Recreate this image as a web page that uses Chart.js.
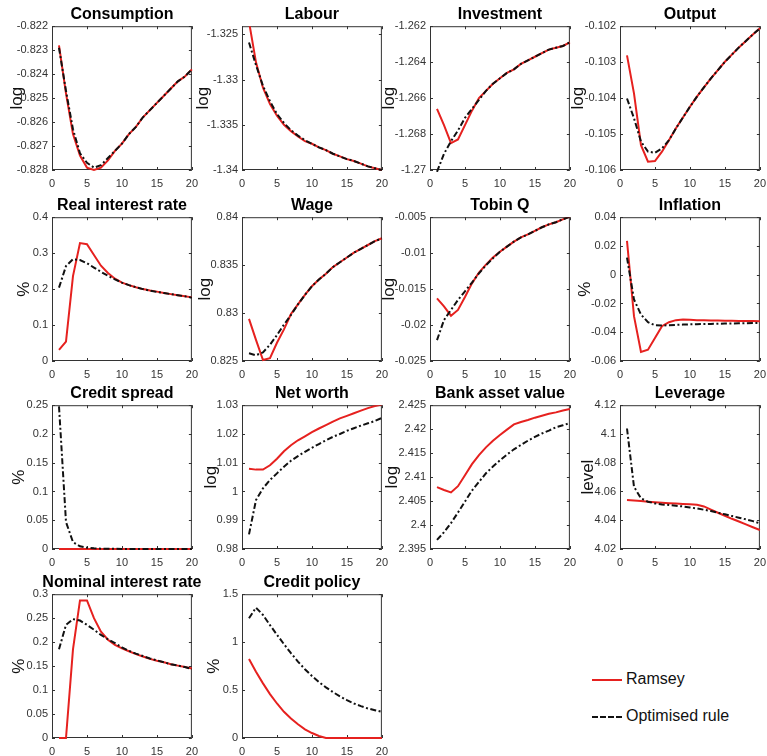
<!DOCTYPE html>
<html>
<head>
<meta charset="utf-8">
<script src="https://cdn.jsdelivr.net/npm/chart.js@4/dist/chart.umd.min.js"></script>
<style>
    body { margin: 0; background: #fff; width: 767px; height: 756px; position: relative; overflow: hidden; font-family: 'Liberation Sans', Arial, sans-serif; }
    canvas { position: absolute; }
    .key { position: absolute; left: 592px; font-size: 16px; color: #111; }
    .key span { display: inline-block; width: 30px; vertical-align: middle; margin-right: 4px; }
</style>
</head>
<body>
<div class="key" style="top: 670px;"><span style="border-top: 2px solid #e6211f;"></span>Ramsey</div>
<div class="key" style="top: 707px;"><span style="border-top: 2px dashed #111;"></span>Optimised rule</div>
<script>
const periods = [1, 2, 3, 4, 5, 6, 7, 8, 9, 10, 11, 12, 13, 14, 15, 16, 17, 18, 19, 20];
const xTicks = [0, 5, 10, 15, 20];

const consumptionRamsey = [-0.8228, -0.8248, -0.8265, -0.8274, -0.8279, -0.8280, -0.8279, -0.8276, -0.8272, -0.8269, -0.8265, -0.8262, -0.8258, -0.8255, -0.8252, -0.8249, -0.8246, -0.8243, -0.8241, -0.8238];
const consumptionOptimised = [-0.8229, -0.8247, -0.8263, -0.8273, -0.8277, -0.8279, -0.8278, -0.8275, -0.8272, -0.8269, -0.8265, -0.8262, -0.8258, -0.8255, -0.8252, -0.8249, -0.8246, -0.8243, -0.8241, -0.8238];
const consumptionTicks = [-0.828, -0.827, -0.826, -0.825, -0.824, -0.823, -0.822];

const labourRamsey = [-1.3236, -1.3281, -1.3309, -1.3327, -1.3340, -1.3350, -1.3357, -1.3363, -1.3368, -1.3371, -1.3375, -1.3378, -1.3382, -1.3385, -1.3388, -1.3390, -1.3393, -1.3396, -1.3398, -1.3400];
const labourOptimised = [-1.3259, -1.3284, -1.3307, -1.3324, -1.3338, -1.3348, -1.3356, -1.3362, -1.3367, -1.3371, -1.3375, -1.3378, -1.3382, -1.3385, -1.3388, -1.3390, -1.3393, -1.3396, -1.3398, -1.3400];
const labourTicks = [-1.34, -1.335, -1.33, -1.325];

const investmentRamsey = [-1.2666, -1.2675, -1.2685, -1.2683, -1.2675, -1.2667, -1.2660, -1.2656, -1.2652, -1.2649, -1.2646, -1.2644, -1.2641, -1.2639, -1.2637, -1.2635, -1.2633, -1.2632, -1.2631, -1.2629];
const investmentOptimised = [-1.2701, -1.2691, -1.2684, -1.2678, -1.2671, -1.2666, -1.2661, -1.2656, -1.2652, -1.2649, -1.2646, -1.2644, -1.2641, -1.2639, -1.2637, -1.2635, -1.2633, -1.2632, -1.2631, -1.2629];
const investmentTicks = [-1.27, -1.268, -1.266, -1.264, -1.262];

const outputRamsey = [-0.10281, -0.10387, -0.10531, -0.10577, -0.10575, -0.10549, -0.10517, -0.10484, -0.10454, -0.10424, -0.10396, -0.10370, -0.10345, -0.10322, -0.10299, -0.10279, -0.10259, -0.10241, -0.10223, -0.10206];
const outputOptimised = [-0.10401, -0.10456, -0.10521, -0.10549, -0.10552, -0.10540, -0.10517, -0.10484, -0.10454, -0.10424, -0.10396, -0.10370, -0.10345, -0.10322, -0.10299, -0.10279, -0.10259, -0.10241, -0.10223, -0.10206];
const outputTicks = [-0.106, -0.105, -0.104, -0.103, -0.102];

const realRateRamsey = [0.031, 0.054, 0.236, 0.328, 0.325, 0.295, 0.265, 0.245, 0.229, 0.218, 0.211, 0.205, 0.200, 0.196, 0.193, 0.189, 0.186, 0.183, 0.180, 0.177];
const realRateOptimised = [0.204, 0.264, 0.283, 0.281, 0.272, 0.260, 0.248, 0.237, 0.227, 0.218, 0.211, 0.205, 0.200, 0.196, 0.192, 0.189, 0.186, 0.183, 0.180, 0.176];
const realRateTicks = [0, 0.1, 0.2, 0.3, 0.4];

const wageRamsey = [0.8294, 0.8272, 0.8251, 0.8253, 0.8269, 0.8283, 0.8299, 0.8309, 0.8319, 0.8328, 0.8335, 0.8341, 0.8348, 0.8353, 0.8358, 0.8363, 0.8367, 0.8371, 0.8375, 0.8378];
const wageOptimised = [0.8258, 0.8256, 0.8259, 0.8267, 0.8277, 0.8288, 0.8298, 0.8309, 0.8319, 0.8328, 0.8335, 0.8341, 0.8348, 0.8353, 0.8358, 0.8363, 0.8367, 0.8371, 0.8375, 0.8378];
const wageTicks = [0.825, 0.83, 0.835, 0.84];

const tobinRamsey = [-0.0163, -0.0174, -0.0187, -0.0179, -0.0161, -0.0142, -0.0127, -0.0116, -0.0106, -0.0098, -0.0091, -0.0084, -0.0078, -0.0074, -0.0069, -0.0064, -0.0060, -0.0057, -0.0053, -0.0049];
const tobinOptimised = [-0.0221, -0.0193, -0.0179, -0.0165, -0.0153, -0.0141, -0.0128, -0.0117, -0.0107, -0.0098, -0.0091, -0.0084, -0.0078, -0.0074, -0.0069, -0.0064, -0.0060, -0.0057, -0.0053, -0.0049];
const tobinTicks = [-0.025, -0.02, -0.015, -0.01, -0.005];

const inflationRamsey = [0.0235, -0.0288, -0.0537, -0.0521, -0.0440, -0.0358, -0.0330, -0.0316, -0.0312, -0.0314, -0.0316, -0.0317, -0.0318, -0.0319, -0.0320, -0.0320, -0.0321, -0.0322, -0.0322, -0.0323];
const inflationOptimised = [0.0119, -0.0172, -0.0277, -0.0330, -0.0351, -0.0353, -0.0351, -0.0349, -0.0347, -0.0345, -0.0344, -0.0343, -0.0342, -0.0341, -0.0340, -0.0339, -0.0338, -0.0337, -0.0336, -0.0335];
const inflationTicks = [-0.06, -0.04, -0.02, 0, 0.02, 0.04];

const creditSpreadRamsey = [0, 0, 0, 0, 0, 0, 0, 0, 0, 0, 0, 0, 0, 0, 0, 0, 0, 0, 0, 0];
const creditSpreadOptimised = [0.248, 0.047, 0.012, 0.0047, 0.0023, 0.0012, 0.0006, 0.0004, 0.0003, 0.0002, 0.0002, 0.0002, 0.0002, 0.0002, 0.0002, 0.0002, 0.0002, 0.0002, 0.0002, 0.0002];
const creditSpreadTicks = [0, 0.05, 0.1, 0.15, 0.2, 0.25];

const netWorthRamsey = [1.0079, 1.0076, 1.0076, 1.0091, 1.0114, 1.0140, 1.0161, 1.0178, 1.0192, 1.0206, 1.0219, 1.0231, 1.0243, 1.0254, 1.0263, 1.0272, 1.0281, 1.0290, 1.0297, 1.0302];
const netWorthOptimised = [0.9851, 0.9970, 1.0011, 1.0040, 1.0063, 1.0086, 1.0107, 1.0123, 1.0138, 1.0152, 1.0165, 1.0178, 1.0190, 1.0200, 1.0211, 1.0220, 1.0229, 1.0237, 1.0245, 1.0256];
const netWorthTicks = [0.98, 0.99, 1, 1.01, 1.02, 1.03];

const bankAssetRamsey = [2.4079, 2.4073, 2.4068, 2.4081, 2.4104, 2.4127, 2.4146, 2.4162, 2.4176, 2.4188, 2.4199, 2.4210, 2.4215, 2.4219, 2.4224, 2.4228, 2.4232, 2.4235, 2.4239, 2.4242];
const bankAssetOptimised = [2.3969, 2.3985, 2.4004, 2.4026, 2.4049, 2.4072, 2.4090, 2.4108, 2.4122, 2.4135, 2.4147, 2.4158, 2.4167, 2.4176, 2.4184, 2.4191, 2.4197, 2.4204, 2.4208, 2.4213];
const bankAssetTicks = [2.395, 2.4, 2.405, 2.41, 2.415, 2.42, 2.425];

const leverageRamsey = [4.0540, 4.0537, 4.0533, 4.0529, 4.0525, 4.0522, 4.0519, 4.0516, 4.0513, 4.0511, 4.0508, 4.0496, 4.0474, 4.0452, 4.0431, 4.0410, 4.0391, 4.0371, 4.0351, 4.0332];
const leverageOptimised = [4.1038, 4.0633, 4.0552, 4.0529, 4.0517, 4.0510, 4.0506, 4.0501, 4.0496, 4.0489, 4.0482, 4.0473, 4.0464, 4.0452, 4.0441, 4.0429, 4.0418, 4.0406, 4.0394, 4.0378];
const leverageTicks = [4.02, 4.04, 4.06, 4.08, 4.1, 4.12];

const nominalRamsey = [0, 0, 0.185, 0.287, 0.287, 0.250, 0.222, 0.205, 0.194, 0.187, 0.181, 0.175, 0.170, 0.165, 0.161, 0.158, 0.154, 0.151, 0.148, 0.145];
const nominalOptimised = [0.185, 0.236, 0.248, 0.245, 0.236, 0.226, 0.215, 0.206, 0.198, 0.189, 0.182, 0.176, 0.171, 0.166, 0.162, 0.158, 0.154, 0.151, 0.148, 0.144];
const nominalTicks = [0, 0.05, 0.1, 0.15, 0.2, 0.25, 0.3];

const creditPolicyRamsey = [0.825, 0.692, 0.570, 0.458, 0.360, 0.273, 0.203, 0.143, 0.091, 0.052, 0.021, 0, 0, 0, 0, 0, 0, 0, 0, 0];
const creditPolicyOptimised = [1.249, 1.360, 1.283, 1.178, 1.077, 0.979, 0.885, 0.797, 0.717, 0.647, 0.584, 0.528, 0.479, 0.434, 0.395, 0.360, 0.332, 0.308, 0.290, 0.273];
const creditPolicyTicks = [0, 0.5, 1, 1.5];

// panel layout: axes box left/top per column/row
const colLeft = [52, 242, 430, 620];
const rowTop = [26, 217, 405, 594];
const BOX_W = 145, BOX_H = 144, Y_AXIS_W = 52, TITLE_H = 26, X_AXIS_H = 20, RIGHT_PAD = 8;

const panels = [
    { title: 'Consumption', unit: 'log', ramsey: consumptionRamsey, rule: consumptionOptimised, ticks: consumptionTicks, gap: 35 },
    { title: 'Labour', unit: 'log', ramsey: labourRamsey, rule: labourOptimised, ticks: labourTicks, max: -1.3241, gap: 39 },
    { title: 'Investment', unit: 'log', ramsey: investmentRamsey, rule: investmentOptimised, ticks: investmentTicks, gap: 41 },
    { title: 'Output', unit: 'log', ramsey: outputRamsey, rule: outputOptimised, ticks: outputTicks, gap: 42 },
    { title: 'Real interest rate', unit: '%', ramsey: realRateRamsey, rule: realRateOptimised, ticks: realRateTicks, gap: 28 },
    { title: 'Wage', unit: 'log', ramsey: wageRamsey, rule: wageOptimised, ticks: wageTicks, gap: 37 },
    { title: 'Tobin Q', unit: 'log', ramsey: tobinRamsey, rule: tobinOptimised, ticks: tobinTicks, gap: 41 },
    { title: 'Inflation', unit: '%', ramsey: inflationRamsey, rule: inflationOptimised, ticks: inflationTicks, gap: 35 },
    { title: 'Credit spread', unit: '%', ramsey: creditSpreadRamsey, rule: creditSpreadOptimised, ticks: creditSpreadTicks, gap: 33 },
    { title: 'Net worth', unit: 'log', ramsey: netWorthRamsey, rule: netWorthOptimised, ticks: netWorthTicks, gap: 31 },
    { title: 'Bank asset value', unit: 'log', ramsey: bankAssetRamsey, rule: bankAssetOptimised, ticks: bankAssetTicks, gap: 38 },
    { title: 'Leverage', unit: 'level', ramsey: leverageRamsey, rule: leverageOptimised, ticks: leverageTicks, gap: 32 },
    { title: 'Nominal interest rate', unit: '%', ramsey: nominalRamsey, rule: nominalOptimised, ticks: nominalTicks, gap: 33 },
    { title: 'Credit policy', unit: '%', ramsey: creditPolicyRamsey, rule: creditPolicyOptimised, ticks: creditPolicyTicks, gap: 28 }
];

const FONT = "'Liberation Sans', Arial, sans-serif";
const INK = '#333';

// matlab style box with inward tick marks
const axesBox = {
    id: 'axesBox',
    afterLayout(chart) {
        // let the title run wider than the box (long titles) but stay centred on it
        const t = chart.titleBlock, a = chart.chartArea;
        const cx = (a.left + a.right) / 2;
        const half = Math.min(cx, chart.width - cx);
        t.left = cx - half;
        t.right = cx + half;
        t.width = 2 * half;
    },
    beforeDatasetsDraw(chart) {
        const { ctx, chartArea: a, scales: { x, y } } = chart;
        ctx.save();
        ctx.strokeStyle = INK;
        ctx.lineWidth = 1;
        ctx.strokeRect(a.left + 0.5, a.top + 0.5, a.width - 1, a.height - 1);
        ctx.beginPath();
        x.ticks.forEach(t => {
            const px = Math.round(x.getPixelForValue(t.value)) + 0.5;
            ctx.moveTo(px, a.bottom); ctx.lineTo(px, a.bottom - 3);
            ctx.moveTo(px, a.top); ctx.lineTo(px, a.top + 3);
        });
        y.ticks.forEach(t => {
            const py = Math.round(y.getPixelForValue(t.value)) + 0.5;
            ctx.moveTo(a.left, py); ctx.lineTo(a.left + 3, py);
            ctx.moveTo(a.right, py); ctx.lineTo(a.right - 3, py);
        });
        ctx.stroke();
        ctx.restore();
    }
};

const toPoints = arr => periods.map((p, i) => ({ x: p, y: arr[i] }));

panels.forEach((panel, idx) => {
    const row = Math.floor(idx / 4), col = idx % 4;
    const canvas = document.createElement('canvas');
    canvas.width = Y_AXIS_W + BOX_W + RIGHT_PAD;
    canvas.height = TITLE_H + BOX_H + X_AXIS_H;
    canvas.style.left = (colLeft[col] - Y_AXIS_W) + 'px';
    canvas.style.top = (rowTop[row] - TITLE_H) + 'px';
    document.body.appendChild(canvas);

    new Chart(canvas.getContext('2d'), {
        type: 'line',
        data: {
            datasets: [
                {
                    label: 'Optimised rule',
                    data: toPoints(panel.rule),
                    borderColor: '#111',
                    borderWidth: 2,
                    borderDash: [6, 2.5, 2, 2.5],
                    pointRadius: 0,
                    tension: 0,
                    clip: { left: 0, top: 0, right: 2, bottom: 2 }
                },
                {
                    label: 'Ramsey',
                    data: toPoints(panel.ramsey),
                    borderColor: '#e6211f',
                    borderWidth: 2,
                    pointRadius: 0,
                    tension: 0,
                    clip: { left: 0, top: 0, right: 2, bottom: 2 }
                }
            ]
        },
        options: {
            responsive: false,
            animation: false,
            layout: { padding: { left: 0, top: 0, right: RIGHT_PAD, bottom: 0 } },
            plugins: {
                legend: { display: false },
                tooltip: { enabled: false },
                title: {
                    display: true,
                    fullSize: false,
                    text: panel.title,
                    color: '#000',
                    font: { family: FONT, size: 16, weight: 'bold', lineHeight: 1.2 },
                    padding: { top: 5, bottom: 2 }
                }
            },
            scales: {
                x: {
                    type: 'linear',
                    min: 0,
                    max: 20,
                    grid: { display: false, drawTicks: false },
                    border: { display: false },
                    afterBuildTicks: scale => { scale.ticks = xTicks.map(v => ({ value: v })); },
                    afterFit: scale => { scale.height = X_AXIS_H; },
                    ticks: {
                        padding: 7,
                        color: INK,
                        maxRotation: 0,
                        autoSkip: false,
                        font: { family: FONT, size: 11 },
                        callback: v => String(v)
                    }
                },
                y: {
                    type: 'linear',
                    min: panel.ticks[0],
                    max: panel.max !== undefined ? panel.max : panel.ticks[panel.ticks.length - 1],
                    grid: { display: false, drawTicks: false },
                    border: { display: false },
                    afterBuildTicks: scale => { scale.ticks = panel.ticks.map(v => ({ value: v })); },
                    afterFit: scale => { scale.width = Y_AXIS_W; },
                    title: {
                        display: true,
                        text: panel.unit,
                        color: '#111',
                        font: { family: FONT, size: 17, lineHeight: 1.2 },
                        padding: { top: Math.max(0, Y_AXIS_W - panel.gap - 10.2), bottom: 0 }
                    },
                    ticks: {
                        padding: 4,
                        color: INK,
                        autoSkip: false,
                        font: { family: FONT, size: 11 },
                        callback: v => String(v)
                    }
                }
            }
        },
        plugins: [axesBox]
    });
});
</script>
</body>
</html>
